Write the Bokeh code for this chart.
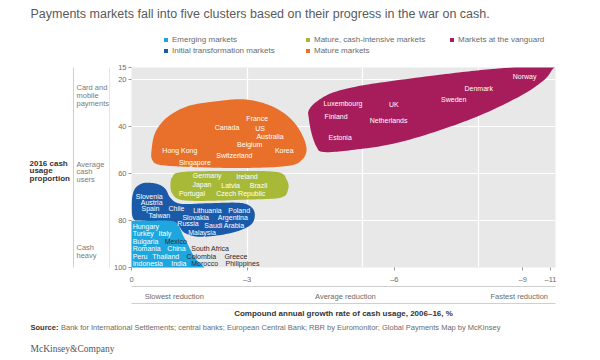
import numpy as np
from bokeh.plotting import figure
from bokeh.layouts import column, row
from bokeh.models import (ColumnDataSource, Range1d, FixedTicker, LinearAxis, Label,
                          Legend, LegendItem, BoxAnnotation)
from bokeh.core.properties import value
from bokeh.embed import file_html
from bokeh.resources import INLINE

# ---------------- data ----------------
TITLE = "Payments markets fall into five clusters based on their progress in the war on cash."

cluster_names = ["Emerging markets", "Initial transformation markets",
                 "Mature, cash-intensive markets", "Mature markets", "Markets at the vanguard"]

vanguard = ["Norway", "Denmark", "Sweden", "UK", "Luxembourg", "Finland", "Netherlands", "Estonia"]
vanguard_x = [-9.89, -8.64, -8.03, -6.68, -4.98, -5.01, -6.18, -5.11]
vanguard_y = [18.9, 24.0, 28.4, 30.6, 30.5, 36.0, 37.4, 44.6]

mature = ["France", "Canada", "US", "Australia", "Belgium", "Switzerland", "Korea", "Hong Kong", "Singapore"]
mature_x = [-2.98, -2.16, -3.21, -3.24, -2.74, -2.20, -3.72, -0.80, -1.23]
mature_y = [36.7, 40.5, 40.8, 44.2, 47.8, 52.2, 50.3, 50.4, 55.5]

cash_intensive = ["Germany", "Ireland", "Japan", "Latvia", "Brazil", "Portugal", "Czech Republic"]
cash_intensive_x = [-1.59, -2.72, -1.58, -2.33, -3.07, -1.23, -2.20]
cash_intensive_y = [60.8, 61.4, 64.8, 65.3, 65.0, 68.4, 68.7]

initial = ["Slovenia", "Austria", "Spain", "Chile", "Taiwan", "Lithuania", "Poland", "Slovakia",
           "Argentina", "Russia", "Saudi Arabia", "Malaysia"]
initial_x = [-0.11, -0.24, -0.26, -0.96, -0.44, -1.60, -2.51, -1.32, -2.24, -1.19, -1.89, -1.47]
initial_y = [69.7, 72.4, 75.0, 75.0, 77.7, 75.9, 75.9, 78.6, 78.7, 81.3, 82.1, 85.1]

emerging = ["Hungary", "Turkey", "Italy", "Bulgaria", "Mexico", "Romania", "China", "South Africa",
            "Peru", "Thailand", "Colombia", "Greece", "Indonesia", "India", "Morocco", "Philippines"]
emerging_x = [-0.03, -0.03, -0.70, -0.03, -0.86, -0.03, -0.93, -1.55,
              -0.03, -0.54, -1.43, -2.41, -0.03, -1.03, -1.55, -2.44]
emerging_y = [82.5, 85.7, 85.7, 88.9, 88.9, 92.0, 92.0, 92.0,
              95.3, 95.3, 95.3, 95.3, 98.4, 98.4, 98.4, 98.4]

# cluster outlines (growth rate, cash share)
vanguard_outline_x = [-4.60, -4.60, -4.67, -4.80, -4.98, -5.71, -7.00, -8.73, -10.02, -10.69,
                      -10.92, -11.05, -10.10, -9.06, -7.85, -6.14, -5.27, -4.81]
vanguard_outline_y = [33.2, 36.6, 42.9, 48.7, 50.9, 50.1, 46.6, 37.4, 27.7, 20.5,
                      15.8, 13.0, 14.6, 16.1, 18.4, 22.2, 25.4, 29.4]
mature_outline_x = [-0.52, -0.62, -0.93, -1.45, -2.09, -2.87, -3.51, -4.03, -4.36, -4.54,
                    -4.42, -4.03, -2.87, -1.58, -0.75, -0.54]
mature_outline_y = [50.1, 42.5, 36.1, 31.5, 29.6, 28.5, 30.6, 35.3, 41.6, 49.2,
                    54.3, 56.9, 57.7, 57.3, 56.4, 54.3]
cash_intensive_outline_x = [-1.01, -1.06, -1.32, -2.61, -3.77, -4.03, -4.06, -3.85, -2.87, -1.83, -1.27, -1.06]
cash_intensive_outline_y = [65.3, 61.5, 59.4, 59.0, 59.4, 62.8, 67.0, 70.4, 71.2, 71.7, 71.2, 68.7]
initial_outline_x = [0.0, -0.05, -0.16, -0.36, -0.67, -0.88, -1.01, -1.27, -1.96, -2.79, -3.10,
                     -3.20, -3.10, -2.71, -2.17, -1.71, -1.37, -1.21, -0.93, -0.28, -0.05]
initial_outline_y = [73.4, 67.9, 65.3, 64.0, 64.5, 66.6, 70.4, 72.9, 72.7, 72.5, 74.2,
                     77.6, 81.8, 84.8, 86.5, 86.9, 85.2, 82.2, 80.5, 80.1, 79.3]
emerging_outline_x = [0.4, 0.3, 0.0, -0.5, -0.96, -1.14, -1.24, -1.34, -1.45, -1.55, -1.68, -1.93, -1.5, 0.4]
emerging_outline_y = [95.0, 80.1, 80.1, 80.1, 80.1, 80.7, 82.7, 86.5, 89.8, 93.2, 96.6, 101.5, 104.0, 104.0]

y_ticks = [15, 20, 40, 60, 80, 100]
y_grid = [20, 40, 60, 80]
x_grid = [-3, -6, -9]
x_tick_pos = [0, -3.0, -6.82, -10.15, -10.87]
x_tick_labels = ["0", "\u20133", "\u20136", "\u20139", "\u201311"]
speed_pos = [-1.11, -5.55, -10.06]
speed_labels = ["Slowest reduction", "Average reduction", "Fastest reduction"]
X_TITLE = "Compound annual growth rate of cash usage, 2006\u201316, %"
Y_TITLE = ["2016 cash", "usage", "proportion"]
band_labels = [["Card and", "mobile", "payments"], ["Average", "cash", "users"], ["Cash", "heavy"]]
SOURCE = "Bank for International Settlements; central banks; European Central Bank; RBR by Euromonitor; Global Payments Map by McKinsey"
dark_labels = {"Mexico", "South Africa", "Colombia", "Greece", "Morocco", "Philippines"}

# ---------------- style ----------------
FONT = "Liberation Sans"
colors = ["#1ea6de", "#1b5aa8", "#a8b938", "#e9702a", "#a71c5a"]
GRAY_TXT = "#6b6b6b"


def smooth_closed(xs, ys, n=14):
    pts = np.column_stack([xs, ys]).astype(float)
    m = len(pts)
    out = []
    for i in range(m):
        p0, p1, p2, p3 = pts[(i - 1) % m], pts[i], pts[(i + 1) % m], pts[(i + 2) % m]
        for t in np.linspace(0, 1, n, endpoint=False):
            t2, t3 = t * t, t * t * t
            out.append(0.5 * (2 * p1 + (-p0 + p2) * t + (2 * p0 - 5 * p1 + 4 * p2 - p3) * t2
                              + (-p0 + 3 * p1 - 3 * p2 + p3) * t3))
    out = np.array(out)
    return list(out[:, 0]), list(out[:, 1])


def blank(w, h, ytop, ybot):
    f = figure(width=w, height=h, x_range=Range1d(0, w), y_range=Range1d(ybot, ytop),
               output_backend="svg", toolbar_location=None, x_axis_type=None, y_axis_type=None,
               min_border=0)
    f.outline_line_color = None
    f.background_fill_color = "white"
    f.border_fill_color = "white"
    f.grid.visible = False
    return f


def lab(f, x, y, text, size="7.5px", color=GRAY_TXT, style="normal", font=FONT, align="left"):
    f.add_layout(Label(x=x, y=y, text=text, text_font_size=size, text_color=color,
                       text_font_style=style, text_font=font, text_align=align,
                       text_baseline="middle"))


# ---------------- header (title + legend) ----------------
head = blank(600, 60, 0, 60)
lab(head, 30, 13.5, TITLE, size="12.5px", color="#5a5a5a")
leg_common = dict(label_text_font_size="8px", label_text_font=FONT, label_text_color=GRAY_TXT,
                  glyph_width=5, glyph_height=5, label_standoff=4, spacing=0, padding=0, margin=0,
                  border_line_color=None, background_fill_alpha=0, label_height=11)
# legend keys: renderers whose only (off-canvas) box just carries the colour
dummy = [head.quad(left=[-30], right=[-20], top=[-30], bottom=[-20], fill_color=c, line_color=None)
         for c in colors]
leg_groups = [([0, 1], (163, 4.5)), ([2, 3], (305, 4.5)), ([4], (449, 15.5))]
for members, loc in leg_groups:
    items = [LegendItem(label=cluster_names[i], renderers=[dummy[i]]) for i in members]
    head.add_layout(Legend(items=items, location=loc, **leg_common), "center")

# ---------------- left panel (its frame is aligned with the chart frame: page y 67..268) ----------------
left = blank(110, 260, 67, 268)
for i, t in enumerate(Y_TITLE):
    lab(left, 29, 163 + 8 * i, t, size="8px", color="#333333", style="bold")
band_top = [87, 164, 248]
for lines, top in zip(band_labels, band_top):
    for i, t in enumerate(lines):
        lab(left, 76, top + 8 * i, t, color="#7a7a7a")
for sx in (72.5, 109):
    left.add_layout(BoxAnnotation(left=sx, right=sx + 1, top=60, bottom=275,
                                  fill_color="#cfcfcf", fill_alpha=1, line_color=None))

# ---------------- main chart ----------------
p = figure(width=490, height=260, x_range=Range1d(0, -11.0), y_range=Range1d(100, 15),
           output_backend="svg", toolbar_location=None,
           min_border_left=19, min_border_right=45, min_border_top=7, min_border_bottom=52)
p.background_fill_color = "#e8e8e8"
p.border_fill_color = "white"
p.outline_line_color = None

p.xgrid.ticker = FixedTicker(ticks=x_grid)
p.ygrid.ticker = FixedTicker(ticks=y_grid)
for g in (p.xgrid[0], p.ygrid[0]):
    g.grid_line_color = "white"
    g.grid_line_width = 1.2

xa = p.below[0]
xa.axis_label = None
xa.ticker = FixedTicker(ticks=x_tick_pos)
xa.major_label_overrides = {float(k): v for k, v in zip(x_tick_pos, x_tick_labels)}
xa.axis_line_color = None
xa.major_tick_line_color = "#999999"
xa.major_tick_in = 0
xa.major_tick_out = 3
xa.minor_tick_line_color = None
xa.minor_tick_in = 0
xa.minor_tick_out = 0
xa.major_label_standoff = 4
xa.major_label_text_font_size = "7.5px"
xa.major_label_text_font = FONT
xa.major_label_text_color = GRAY_TXT

ya = p.left[0]
ya.axis_label = None
ya.ticker = FixedTicker(ticks=y_ticks)
ya.axis_line_color = None
ya.major_tick_line_color = "#999999"
ya.major_tick_in = 0
ya.major_tick_out = 3
ya.minor_tick_line_color = None
ya.minor_tick_in = 0
ya.minor_tick_out = 0
ya.major_label_standoff = 2
ya.major_label_text_font_size = "7.5px"
ya.major_label_text_font = FONT
ya.major_label_text_color = GRAY_TXT

ax2 = LinearAxis(ticker=FixedTicker(ticks=speed_pos),
                 major_label_overrides={float(k): v for k, v in zip(speed_pos, speed_labels)},
                 axis_line_color="#cfcfcf", major_tick_line_color=None, minor_tick_line_color=None,
                 major_tick_in=0, major_tick_out=0, minor_tick_in=0, minor_tick_out=0,
                 major_label_standoff=5, major_label_text_font_size="7.5px",
                 major_label_text_font=FONT, major_label_text_color=GRAY_TXT)
p.add_layout(ax2, "below")
ax3 = LinearAxis(ticker=FixedTicker(ticks=[]), axis_line_color="#cfcfcf",
                 major_tick_line_color=None, minor_tick_line_color=None,
                 major_tick_in=0, major_tick_out=0, minor_tick_in=0, minor_tick_out=0,
                 major_label_standoff=0,
                 axis_label=X_TITLE, axis_label_standoff=5, axis_label_text_font_size="8px",
                 axis_label_text_font=FONT, axis_label_text_font_style="bold",
                 axis_label_text_color="#333333")
p.add_layout(ax3, "below")

outlines = [(emerging_outline_x, emerging_outline_y), (initial_outline_x, initial_outline_y),
            (cash_intensive_outline_x, cash_intensive_outline_y), (mature_outline_x, mature_outline_y),
            (vanguard_outline_x, vanguard_outline_y)]
for idx in [4, 3, 2, 1, 0]:
    sx, sy = smooth_closed(*outlines[idx])
    p.patch(sx, sy, fill_color=colors[idx], line_color=None)

names = emerging + initial + cash_intensive + mature + vanguard
xs = emerging_x + initial_x + cash_intensive_x + mature_x + vanguard_x
ys = emerging_y + initial_y + cash_intensive_y + mature_y + vanguard_y
tcol = ["#2b2b2b" if n in dark_labels else "white" for n in names]
src = ColumnDataSource(dict(x=xs, y=ys, name=names, color=tcol))
p.text(x="x", y="y", text="name", source=src, text_color="color", text_font=value(FONT),
       text_font_size="7px", text_align="left", text_baseline="middle")

# ---------------- footer ----------------
foot = blank(600, 40, 320, 360)
lab(foot, 30, 326.5, "Source:", size="7.5px", color="#333333", style="bold")
lab(foot, 60.5, 326.5, SOURCE, size="7.5px", color=GRAY_TXT)
lab(foot, 30, 348, "McKinsey&Company", size="9.5px", color="#555555", font="Liberation Serif")

layout = column(head, row(left, p, spacing=0), foot, spacing=0)
open("out.html", "w").write(file_html(layout, INLINE))
